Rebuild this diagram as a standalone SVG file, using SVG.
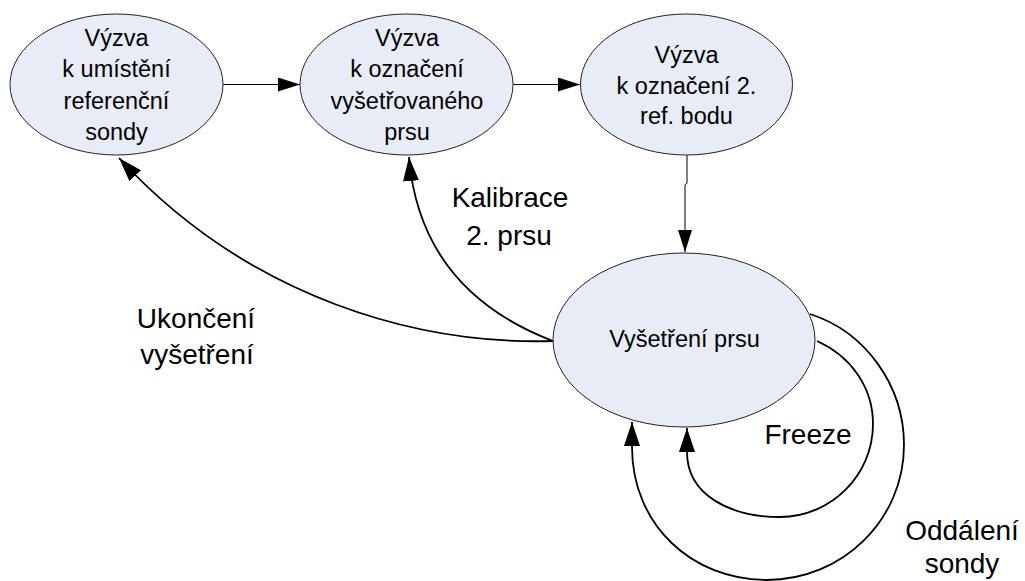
<svg xmlns="http://www.w3.org/2000/svg" width="1025" height="581" viewBox="0 0 1025 581">
<style>
.node ellipse{fill:#E7ECF6;stroke:#222;stroke-width:1}
text{font-family:"Liberation Sans",Arial,sans-serif;fill:#000;text-anchor:middle}
.nt{font-size:23.5px}
.lbl{font-size:28px}
.c{fill:none;stroke:#000}
.thin{stroke-width:1}
.thick{stroke-width:1.8}
</style>
<defs>
<marker id="a" markerWidth="22" markerHeight="14" refX="22" refY="7" orient="auto" markerUnits="userSpaceOnUse"><path d="M0,0 L22,7 L0,14 z" fill="#000"/></marker>
<marker id="b" markerWidth="24" markerHeight="16" refX="24" refY="8" orient="auto" markerUnits="userSpaceOnUse"><path d="M0,0 L24,8 L0,16 z" fill="#000"/></marker>
</defs>
<rect width="1025" height="581" fill="#fff"/>
<g id="connectors">
<path class="c thin" d="M223,84.5 H300" marker-end="url(#a)"/>
<path class="c thin" d="M513,84.5 H580" marker-end="url(#a)"/>
<path class="c thin" d="M687,155 V183 L685,185 V252" marker-end="url(#a)"/>
<path class="c thick" d="M553,341 C420,345 250,300 119,158" marker-end="url(#b)"/>
<path class="c thick" d="M553,341 Q420,290 409,157" marker-end="url(#b)"/>
<path class="c thick" d="M817,341 C850.5,356 873,387 873,424 C873,475 831,517 780,517 C730,517 687,495 687,452 L687,428" marker-end="url(#b)"/>
<path class="c thick" d="M810,314 C866,332 904,386 904,445 C904,520 842,580 767,580 C692,580 632,525 632,447 L632,422" marker-end="url(#b)"/>
</g>
<g id="n1" class="node">
<ellipse cx="116.5" cy="84.5" rx="106.5" ry="70.5"/>
<text class="nt" x="116.5" y="46">Výzva</text>
<text class="nt" x="116.5" y="77.3">k umístění</text>
<text class="nt" x="116.5" y="108.6">referenční</text>
<text class="nt" x="116.5" y="140">sondy</text>
</g>
<g id="n2" class="node">
<ellipse cx="406.5" cy="84.5" rx="106.5" ry="70.5"/>
<text class="nt" x="407" y="46">Výzva</text>
<text class="nt" x="407" y="77.3">k označení</text>
<text class="nt" x="407" y="108.6">vyšetřovaného</text>
<text class="nt" x="407" y="140">prsu</text>
</g>
<g id="n3" class="node">
<ellipse cx="686.5" cy="84.5" rx="106" ry="70.5"/>
<text class="nt" x="686.5" y="63">Výzva</text>
<text class="nt" x="686.5" y="93.5">k označení 2.</text>
<text class="nt" x="686.5" y="124">ref. bodu</text>
</g>
<g id="n4" class="node">
<ellipse cx="684" cy="340" rx="131" ry="87"/>
<text class="nt" x="684.5" y="347">Vyšetření prsu</text>
</g>
<g id="labels">
<text class="lbl" x="510" y="207">Kalibrace</text>
<text class="lbl" x="509" y="245">2. prsu</text>
<text class="lbl" x="196" y="328">Ukončení</text>
<text class="lbl" x="197" y="364">vyšetření</text>
<text class="lbl" x="808" y="444">Freeze</text>
<text class="lbl" x="962" y="540">Oddálení</text>
<text class="lbl" x="962" y="573">sondy</text>
</g>
</svg>
